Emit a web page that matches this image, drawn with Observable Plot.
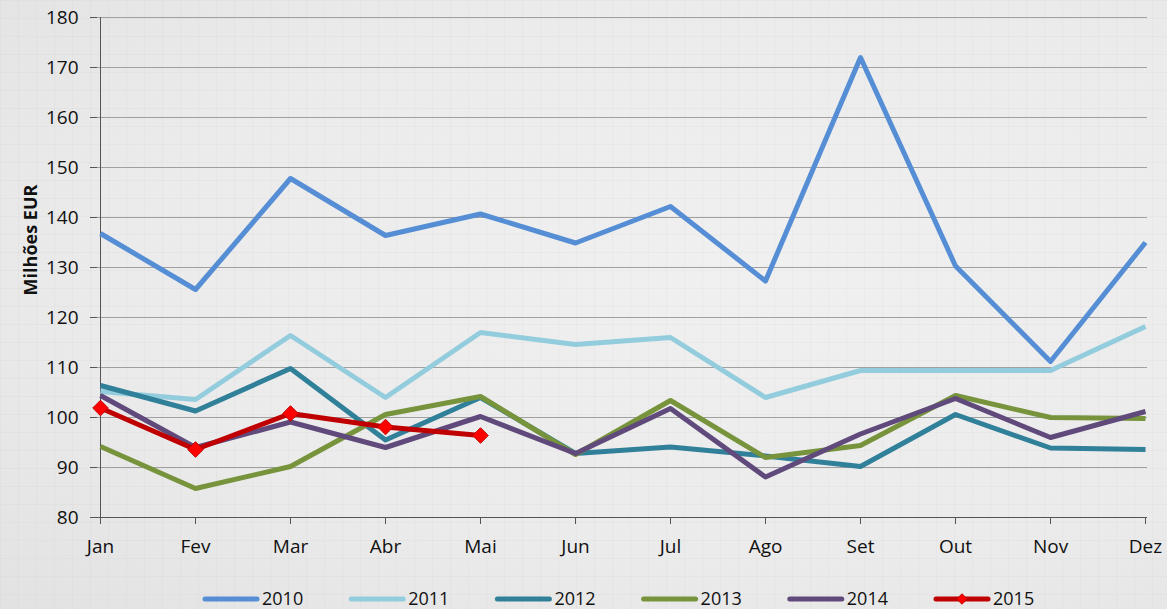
<!DOCTYPE html>
<html><head><meta charset="utf-8">
<script src="https://cdn.jsdelivr.net/npm/d3@7"></script>
<script src="https://cdn.jsdelivr.net/npm/@observablehq/plot@0.6"></script>
<style>
html,body{margin:0;padding:0;}
body{width:1167px;height:609px;overflow:hidden;position:relative;font-family:"Open Sans",sans-serif;
 background-color:#ececec;
 background-image:
  linear-gradient(rgba(0,0,0,0.018) 1px, transparent 1px),
  linear-gradient(90deg, rgba(0,0,0,0.018) 1px, transparent 1px),
  radial-gradient(ellipse at 65% 45%, #f0f0f0 0%, #ebebeb 60%, #e2e2e2 100%);
 background-size:18px 18px,18px 18px,100% 100%;}
#chart{position:absolute;left:0;top:0;}
#ytitle{position:absolute;left:30px;top:240px;transform:translate(-50%,-50%) rotate(-90deg);font-weight:bold;font-size:18px;color:#111;white-space:nowrap;font-family:"Open Sans",sans-serif;}
#legend{position:absolute;top:585px;left:0;}
</style></head>
<body>
<div id="chart"></div>
<div id="ytitle">Milhões EUR</div>
<svg id="legend" width="1167" height="24"></svg>
<script>
const months = ["Jan","Fev","Mar","Abr","Mai","Jun","Jul","Ago","Set","Out","Nov","Dez"];
const years = ["2010","2011","2012","2013","2014","2015"];
const colors = ["#558ED5","#93CDDD","#31809A","#77933C","#604A7B","#C00000"];
const v2010 = [136.8,125.6,147.8,136.4,140.7,134.9,142.2,127.3,172,130.3,111.2,135];
const v2011 = [105.2,103.6,116.4,104,117,114.6,116,104,109.4,109.4,109.4,118.2];
const v2012 = [106.4,101.3,109.8,95.5,104,92.8,94.1,92.3,90.2,100.6,93.9,93.6];
const v2013 = [94.2,85.8,90.2,100.6,104.2,92.6,103.4,92,94.4,104.4,100,99.8];
const v2014 = [104.4,94,99.1,94,100.2,92.8,101.8,88.1,96.7,103.8,96,101.2];
const v2015 = [101.9,93.6,100.8,98.1,96.4];
const series = [v2010,v2011,v2012,v2013,v2014,v2015];
const yTicks = [80,90,100,110,120,130,140,150,160,170,180];

const data = [];
series.forEach((arr,i)=>arr.forEach((v,j)=>data.push({year:years[i],month:months[j],value:v})));
const d2015 = data.filter(d=>d.year==="2015");

const plot = Plot.plot({
  width:1167, height:575,
  marginLeft:97, marginRight:20, marginTop:17, marginBottom:58,
  style:{background:"transparent", fontFamily:"Open Sans, sans-serif", fontSize:"19px", color:"#111"},
  x:{type:"point", domain:months, padding:0},
  y:{domain:[80,180]},
  color:{domain:years, range:colors},
  marks:[
    Plot.gridY(yTicks,{stroke:"#a0a0a0", strokeOpacity:1, strokeWidth:1}),
    Plot.axisY(yTicks,{tickSize:7, tickPadding:12, label:null, stroke:"#555", fontSize:19}),
    Plot.axisX({tickSize:7, tickPadding:15, label:null, stroke:"#555", fontSize:19}),
    Plot.ruleX([months[0]],{stroke:"#555"}),
    Plot.ruleY([80],{stroke:"#555"}),
    Plot.line(data,{x:"month", y:"value", z:"year", stroke:"year", strokeWidth:5, strokeLinejoin:"round", strokeLinecap:"butt"}),
    Plot.dot(d2015,{x:"month", y:"value", symbol:"diamond2", r:7, fill:"#FF0000", stroke:"#C00000", strokeWidth:1})
  ]
});
document.getElementById("chart").appendChild(plot);

// legend
const lg = d3.select("#legend");
const startX = 205, step = 146.2;
years.forEach((y,i)=>{
  const x0 = startX + i*step;
  const g = lg.append("g");
  g.append("line").attr("x1",x0).attr("x2",x0+52).attr("y1",14).attr("y2",14)
    .attr("stroke",colors[i]).attr("stroke-width",5).attr("stroke-linecap","round");
  if(y==="2015"){
    const sym = d3.symbol(d3.symbolDiamond2, 70)();
    g.append("path").attr("d",sym).attr("transform",`translate(${x0+26},14)`).attr("fill","#FF0000").attr("stroke","#C00000");
  }
  g.append("text").attr("x",x0+57).attr("y",14).attr("dy","0.36em").attr("font-size",18)
    .attr("font-family","Open Sans, sans-serif").attr("fill","#111").text(y);
});
</script>
</body></html>
